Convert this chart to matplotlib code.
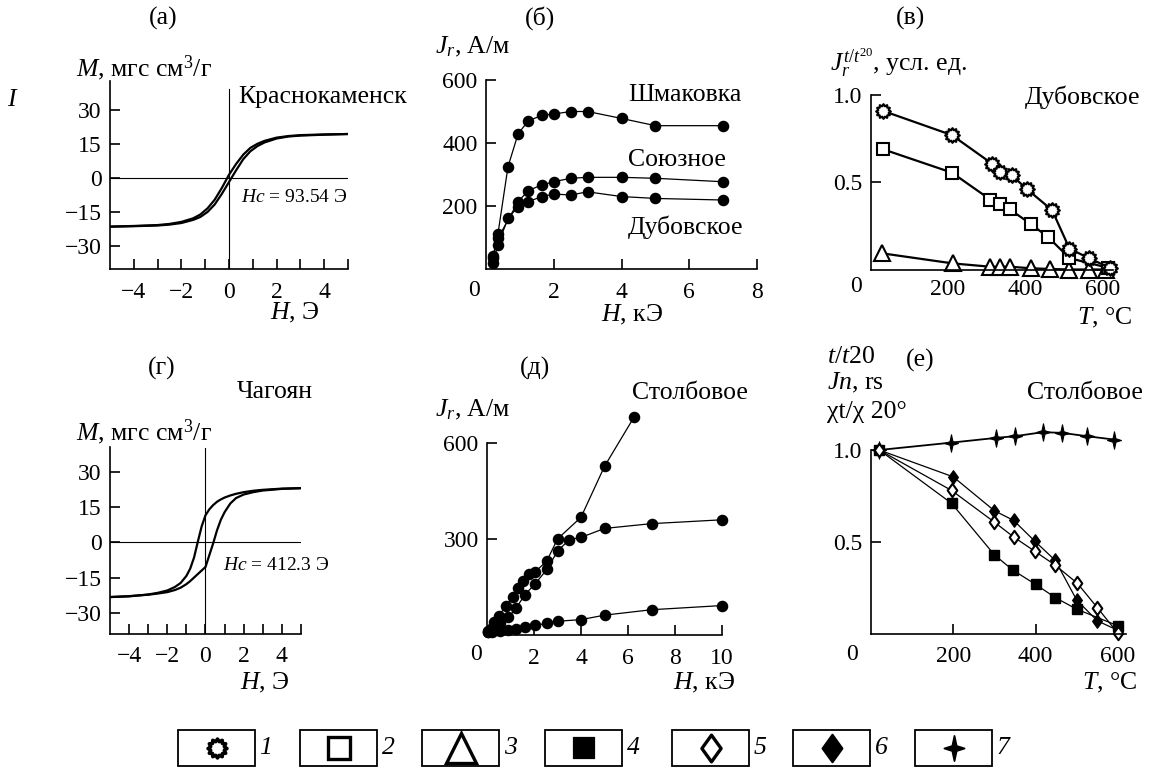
import matplotlib
matplotlib.use('Agg')
import matplotlib.pyplot as plt
from matplotlib.path import Path
from matplotlib.patches import Rectangle
import numpy as np

plt.rcParams['font.family'] = ['Liberation Serif', 'DejaVu Serif']
plt.rcParams['mathtext.fontset'] = 'custom'
plt.rcParams['mathtext.rm'] = 'Liberation Serif'
plt.rcParams['mathtext.it'] = 'Liberation Serif:italic'
plt.rcParams['mathtext.bf'] = 'Liberation Serif:bold'

# ---------------- data ----------------
# (а) Краснокаменск hysteresis loop
H_a = [-5, -4, -3, -2.5, -2, -1.5, -1.2, -0.9, -0.6, -0.3, 0, 0.3, 0.6, 0.9, 1.2, 1.5, 2, 2.5, 3, 4, 5]
M_a_upper = [-21.3, -21.0, -20.6, -20.1, -19.2, -17.6, -15.9, -13.2, -9.4, -4.2, 1.6, 6.4, 10.5, 13.5,
             15.3, 16.6, 18.0, 18.7, 19.1, 19.4, 19.6]
M_a_lower = [-21.3, -21.1, -20.8, -20.4, -19.7, -18.3, -17.0, -14.8, -11.5, -6.8, -1.6, 3.6, 8.5, 12.0,
             14.3, 15.9, 17.6, 18.5, 18.9, 19.3, 19.6]

# (г) Чагоян hysteresis loop
H_g = [-5, -4, -3, -2.5, -2, -1.6, -1.3, -1.0, -0.8, -0.6, -0.4, -0.2, 0, 0.2, 0.4, 0.6, 0.8, 1.0,
       1.3, 1.6, 2, 2.5, 3, 4, 5]
M_g_upper = [-23.3, -23.0, -22.2, -21.5, -20.5, -19.0, -17.3, -14.3, -11.2, -6.5, 0.3, 6.8, 11.5,
             14.0, 15.8, 17.2, 18.2, 19.0, 19.9, 20.6, 21.3, 21.9, 22.3, 22.8, 23.0]
M_g_lower = [-23.3, -22.9, -22.3, -21.8, -21.2, -20.3, -19.3, -17.8, -16.5, -15.0, -13.5, -12.0,
             -10.5, -5.5, -0.5, 5.0, 9.5, 12.8, 16.5, 18.8, 20.3, 21.3, 22.0, 22.7, 23.0]

# (б) Jr(H)
H_b_shm = [0.2, 0.35, 0.65, 0.95, 1.25, 1.65, 2.0, 2.5, 3.0, 4.0, 5.0, 7.0]
J_b_shm = [35, 110, 325, 430, 470, 488, 492, 500, 500, 478, 455, 455]
H_b_soy = [0.2, 0.35, 0.95, 1.25, 1.65, 2.0, 2.5, 3.0, 4.0, 5.0, 7.0]
J_b_soy = [40, 97, 214, 249, 267, 277, 288, 291, 291, 288, 277]
H_b_dub = [0.2, 0.35, 0.65, 0.95, 1.25, 1.65, 2.0, 2.5, 3.0, 4.0, 5.0, 7.0]
J_b_dub = [18, 76, 161, 198, 214, 230, 238, 235, 245, 230, 224, 219]

# (в) thermal demagnetization, Дубовское
T_v1 = [30, 210, 315, 335, 365, 405, 470, 515, 565, 620]
J_v1 = [0.91, 0.77, 0.605, 0.56, 0.54, 0.46, 0.34, 0.12, 0.065, 0.01]
T_v2 = [30, 210, 310, 335, 360, 415, 460, 515, 615]
J_v2 = [0.69, 0.555, 0.40, 0.375, 0.345, 0.26, 0.185, 0.065, 0.01]
T_v3 = [28, 212, 309, 336, 362, 414, 464, 514, 566, 611]
J_v3 = [0.093, 0.035, 0.016, 0.016, 0.016, 0.007, 0.003, 0.0, 0.0, 0.0]

# (д) Jr(H), Столбовое
H_d1 = [0.05, 0.3, 0.5, 0.8, 1.1, 1.3, 1.55, 1.8, 2.05, 2.55, 3.0, 4.0, 5.0, 6.25]
J_d1 = [12, 40, 60, 90, 120, 148, 168, 192, 197, 232, 300, 368, 527, 680]
H_d2 = [0.05, 0.2, 0.55, 0.9, 1.25, 1.6, 2.05, 2.55, 3.0, 3.5, 4.0, 5.0, 7.0, 10.0]
J_d2 = [10, 22, 38, 55, 85, 125, 160, 205, 262, 298, 305, 333, 348, 360]
H_d3 = [0.05, 0.2, 0.55, 0.9, 1.25, 1.6, 2.05, 2.55, 3.0, 4.0, 5.0, 7.0, 10.0]
J_d3 = [8, 10, 12, 17, 20, 25, 31, 36, 43, 48, 62, 79, 92]

# (е) Столбовое, normalized
T_e7 = [20, 195, 305, 350, 418, 465, 525, 590]
V_e7 = [1.0, 1.04, 1.066, 1.075, 1.097, 1.093, 1.075, 1.057]
T_e4 = [20, 196, 300, 345, 400, 448, 500, 600]
V_e4 = [1.0, 0.71, 0.43, 0.347, 0.27, 0.198, 0.135, 0.045]
T_e6 = [20, 200, 300, 347, 398, 448, 500, 550, 600]
V_e6 = [1.0, 0.854, 0.67, 0.617, 0.505, 0.40, 0.185, 0.072, 0.02]
T_e5 = [20, 196, 300, 347, 398, 448, 502, 550, 600]
V_e5 = [1.0, 0.78, 0.608, 0.527, 0.45, 0.374, 0.275, 0.144, 0.005]

LEGEND_LABELS = ['1', '2', '3', '4', '5', '6', '7']

# ---------------- styles ----------------
W, Hpx = 1158, 771
fig = plt.figure(figsize=(W / 100, Hpx / 100), dpi=100)
FS = 17      # tick labels
FT = 18.5    # texts


def rect(l, t, r, b):
    return [l / W, 1 - b / Hpx, (r - l) / W, (b - t) / Hpx]


def ftext(x, y, s, **kw):
    kw.setdefault('fontsize', FT)
    kw.setdefault('va', 'center')
    fig.text(x / W, 1 - y / Hpx, s, **kw)


# sun-like 12-point star
_ang = np.linspace(0, 2 * np.pi, 25)[:-1] + np.pi / 2
_r = np.where(np.arange(24) % 2 == 0, 1.0, 0.74)
_v = np.column_stack([_r * np.cos(_ang), _r * np.sin(_ang)])
_v = np.vstack([_v, _v[:1]])
SUN = Path(_v, [Path.MOVETO] + [Path.LINETO] * 23 + [Path.CLOSEPOLY])
# 4-point star
_v4 = [(0, 1), (0.17, 0.2), (0.8, 0), (0.17, -0.2), (0, -1), (-0.17, -0.2), (-0.8, 0),
       (-0.17, 0.2), (0, 1)]
STAR4 = Path(_v4, [Path.MOVETO] + [Path.LINETO] * 7 + [Path.CLOSEPOLY])
# diamond
DIAM = Path([(0, 1), (0.72, 0), (0, -1), (-0.72, 0), (0, 1)],
            [Path.MOVETO, Path.LINETO, Path.LINETO, Path.LINETO, Path.CLOSEPOLY])

MK = {
    1: dict(marker=SUN, mfc='white', mec='black', mew=1.6, ms=10.5),
    2: dict(marker='s', mfc='white', mec='black', mew=1.5, ms=8),
    3: dict(marker='^', mfc='white', mec='black', mew=1.5, ms=11),
    4: dict(marker='s', mfc='black', mec='black', mew=1.0, ms=6.7),
    5: dict(marker=DIAM, mfc='white', mec='black', mew=1.5, ms=9.6),
    6: dict(marker=DIAM, mfc='black', mec='black', mew=1.0, ms=9.6),
    7: dict(marker=STAR4, mfc='black', mec='black', mew=0.8, ms=12.5),
}


def style_axes(ax):
    for s in ['top', 'right']:
        ax.spines[s].set_visible(False)
    for s in ['left', 'bottom']:
        ax.spines[s].set_linewidth(1.2)
    ax.tick_params(direction='in', length=7, width=1.2, labelsize=FS, pad=6)
    ax.tick_params(axis='x', pad=9)
    ax.patch.set_alpha(0)


# ---------------- (а) ----------------
ax = fig.add_axes(rect(110, 81, 348, 269))
style_axes(ax)
ax.set_xlim(-5, 5)
ax.set_ylim(-40, 43)
ax.plot([0, 0], [-40, 39.5], color='black', lw=0.8)
ax.plot([-5, 5], [0, 0], color='black', lw=0.8)
ax.plot(H_a, M_a_upper, color='black', lw=1.6)
ax.plot(H_a, M_a_lower, color='black', lw=1.6)
ax.set_xticks(range(-4, 6))
ax.set_xticklabels(['−4', '', '−2', '', '0', '', '2', '', '4', ''])
ax.set_yticks([-30, -15, 0, 15, 30])
ftext(163, 18, '(а)', ha='center')
ftext(76, 68, '$M$, мгс см$^3$/г', ha='left')
ftext(13, 100, '$I$', ha='center')
ftext(238, 97, 'Краснокаменск', ha='left')
ftext(241, 198, '$Hc$ = 93.54 Э', ha='left', fontsize=14)
ftext(320, 313, '$H$, Э', ha='right')

# ---------------- (б) ----------------
ax = fig.add_axes(rect(486, 80, 757, 269))
style_axes(ax)
ax.set_xlim(0, 8)
ax.set_ylim(0, 600)
for hx, jy in [(H_b_shm, J_b_shm), (H_b_soy, J_b_soy), (H_b_dub, J_b_dub)]:
    ax.plot(hx, jy, color='black', lw=0.9, marker='o', ms=7.3, clip_on=False)
ax.set_xticks([2, 4, 6, 8])
ax.set_yticks([200, 400, 600])
ftext(540, 18, '(б)', ha='center')
ftext(435, 47, '$J_r$, А/м', ha='left')
ftext(628, 95, 'Шмаковка', ha='left')
ftext(628, 160, 'Союзное', ha='left')
ftext(628, 227, 'Дубовское', ha='left')
ftext(474, 290, '0', ha='center', fontsize=FS)
ftext(663, 315, '$H$, кЭ', ha='right')

# ---------------- (в) ----------------
ax = fig.add_axes(rect(871, 95, 1113, 269.5))
style_axes(ax)
ax.set_xlim(0, 628)
ax.set_ylim(0, 1.0)
ax.plot(T_v3, J_v3, color='black', lw=1.6, clip_on=False, **MK[3])
ax.plot(T_v2, J_v2, color='black', lw=1.6, clip_on=False, **MK[2])
ax.plot(T_v1, J_v1, color='black', lw=1.6, clip_on=False, **MK[1])
ax.set_xticks([200, 400, 600])
ax.tick_params(axis='x', length=0, pad=7)
ax.set_yticks([0.5, 1.0])
ax.set_yticklabels(['0.5', '1.0'])
ftext(910, 18, '(в)', ha='center')
ftext(830, 63, '$J_r^{t/t^{20}}$, усл. ед.', ha='left')
ftext(1025, 97, 'Дубовское', ha='left')
ftext(856, 287, '0', ha='center', fontsize=FS)
ftext(1132, 318, '$T$, °C', ha='right')

# ---------------- (г) ----------------
ax = fig.add_axes(rect(110, 447, 301, 634))
style_axes(ax)
ax.set_xlim(-5, 5)
ax.set_ylim(-39, 40.5)
ax.plot([0, 0], [-39, 40], color='black', lw=0.8)
ax.plot([-5, 5], [0, 0], color='black', lw=0.8)
ax.plot(H_g, M_g_upper, color='black', lw=1.6)
ax.plot(H_g, M_g_lower, color='black', lw=1.6)
ax.set_xticks(range(-4, 6))
ax.set_xticklabels(['−4', '', '−2', '', '0', '', '2', '', '4', ''])
ax.set_yticks([-30, -15, 0, 15, 30])
ftext(162, 368, '(г)', ha='center')
ftext(237, 392, 'Чагоян', ha='left')
ftext(76, 432, '$M$, мгс см$^3$/г', ha='left')
ftext(223, 565, '$Hc$ = 412.3 Э', ha='left', fontsize=14)
ftext(290, 683, '$H$, Э', ha='right')

# ---------------- (д) ----------------
ax = fig.add_axes(rect(487, 443, 722, 635))
style_axes(ax)
ax.set_xlim(0, 10)
ax.set_ylim(0, 600)
for hx, jy in [(H_d1, J_d1), (H_d2, J_d2), (H_d3, J_d3)]:
    ax.plot(hx, jy, color='black', lw=0.9, marker='o', ms=7.3, clip_on=False)
ax.set_xticks([2, 4, 6, 8, 10])
ax.set_yticks([300, 600])
ftext(535, 368, '(д)', ha='center')
ftext(632, 393, 'Столбовое', ha='left')
ftext(435, 410, '$J_r$, А/м', ha='left')
ftext(476, 655, '0', ha='center', fontsize=FS)
ftext(735, 683, '$H$, кЭ', ha='right')

# ---------------- (е) ----------------
ax = fig.add_axes(rect(871, 450, 1126, 634))
style_axes(ax)
ax.set_xlim(0, 620)
ax.set_ylim(0, 1.0)
ax.plot(T_e7, V_e7, color='black', lw=1.3, clip_on=False, **MK[7])
ax.plot(T_e4, V_e4, color='black', lw=0.9, clip_on=False, **MK[4])
ax.plot(T_e6, V_e6, color='black', lw=0.9, clip_on=False, **MK[6])
ax.plot(T_e5, V_e5, color='black', lw=0.9, clip_on=False, **MK[5])
ax.set_xticks([200, 400, 600])
ax.set_yticks([0.5, 1.0])
ax.set_yticklabels(['0.5', '1.0'])
ftext(827, 357, '$t/t$20', ha='left')
ftext(920, 360, '(е)', ha='center')
ftext(827, 383, '$Jn$, rs', ha='left')
ftext(827, 412, 'χt/χ 20°', ha='left')
ftext(1027, 393, 'Столбовое', ha='left')
ftext(852, 655, '0', ha='center', fontsize=FS)
ftext(1137, 683, '$T$, °C', ha='right')

# ---------------- legend ----------------
lg = fig.add_axes([0, 0, 1, 1])
lg.set_xlim(0, W)
lg.set_ylim(Hpx, 0)
lg.axis('off')
lg.patch.set_alpha(0)
box_left = [178, 300, 422, 545, 672, 793, 915]
leg_scale = {1: 1.3, 2: 1.9, 3: 2.0, 4: 2.2, 5: 2.0, 6: 2.05, 7: 1.45}
for i, lab in enumerate(LEGEND_LABELS):
    k = i + 1
    x0 = box_left[i]
    lg.add_patch(Rectangle((x0, 730), 77, 36, fill=False, ec='black', lw=1.3))
    st = dict(MK[k])
    st['ms'] = st['ms'] * leg_scale[k]
    st['mew'] = st['mew'] * 1.6
    lg.plot([x0 + 38.5], [748], linestyle='none', **st)
    lg.text(x0 + 88, 748, lab, fontsize=FT, style='italic', ha='center', va='center')

fig.savefig('out.png', dpi=100)
